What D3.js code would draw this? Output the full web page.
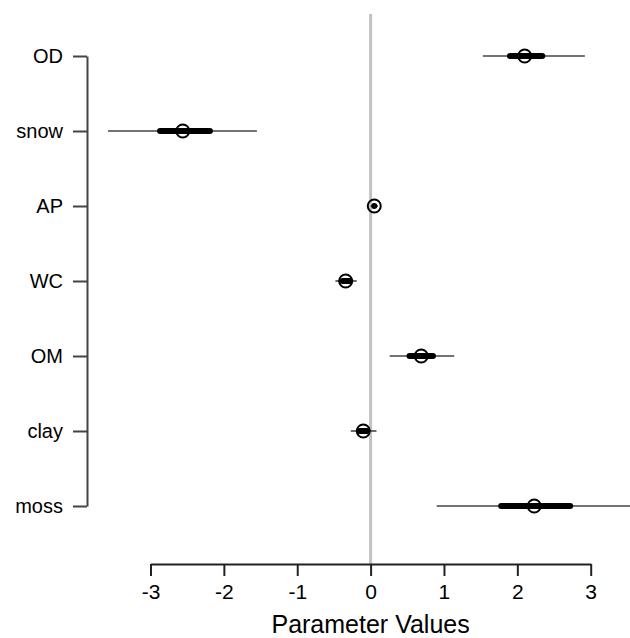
<!DOCTYPE html>
<html>
<head>
<meta charset="utf-8">
<script src="https://cdn.jsdelivr.net/npm/d3@7"></script>
<style>
  body { margin: 0; background: #fff; }
  svg { display: block; font-family: "Liberation Sans", Arial, sans-serif; }
</style>
</head>
<body>
<svg width="630" height="638"></svg>
<script>
// parameter estimates: median, 50% and 95% intervals
var params = ["OD", "snow", "AP", "WC", "OM", "clay", "moss"];
var medians = [2.10, -2.56, 0.05, -0.34, 0.69, -0.10, 2.23];
var lo95 = [1.53, -3.58, 0.00, -0.48, 0.26, -0.27, 0.90];
var hi95 = [2.92, -1.55, 0.10, -0.19, 1.14, 0.08, 3.70];
var lo50 = [1.90, -2.87, 0.05, -0.38, 0.53, -0.15, 1.78];
var hi50 = [2.34, -2.19, 0.05, -0.28, 0.85, -0.05, 2.72];
var xTicks = [-3, -2, -1, 0, 1, 2, 3];

var svg = d3.select("svg"),
    width = +svg.attr("width"),
    height = +svg.attr("height");

var rows = params.map(function(p, i) {
  return {name: p, med: medians[i], lo95: lo95[i], hi95: hi95[i], lo50: lo50[i], hi50: hi50[i]};
});

var x = d3.scaleLinear()
    .domain([-3, 3])
    .range([150.5, 590.7]);

var y = d3.scalePoint()
    .domain(params)
    .range([56, 506]);

// zero reference line
svg.append("line")
    .attr("x1", x(0)).attr("x2", x(0))
    .attr("y1", 14).attr("y2", 564)
    .attr("stroke", "#c2c2c2")
    .attr("stroke-width", 3);

// x axis
var gx = svg.append("g")
    .attr("transform", "translate(0,564)")
    .call(d3.axisBottom(x).tickValues(xTicks).tickSize(12).tickSizeOuter(0).tickPadding(8)
          .tickFormat(d3.format("d")));
gx.select(".domain").attr("stroke", "#222").attr("stroke-width", 2);
gx.selectAll(".tick line").attr("stroke", "#222").attr("stroke-width", 2);
gx.selectAll(".tick text")
    .attr("fill", "#000")
    .style("font-size", "21px")
    .text(function(d) { return d < 0 ? "-" + Math.abs(d) : d; });

svg.append("text")
    .attr("x", x(0))
    .attr("y", 633)
    .attr("text-anchor", "middle")
    .attr("fill", "#000")
    .style("font-size", "25px")
    .text("Parameter Values");

// y axis
var gy = svg.append("g")
    .attr("transform", "translate(87,0)")
    .call(d3.axisLeft(y).tickSize(14).tickSizeOuter(0).tickPadding(10));
gy.select(".domain").attr("stroke", "#444").attr("stroke-width", 2);
gy.selectAll(".tick line").attr("stroke", "#444").attr("stroke-width", 2);
gy.selectAll(".tick text")
    .attr("fill", "#000")
    .style("font-size", "20px");

var marks = svg.append("g");

// 95% intervals
marks.selectAll(".thin")
    .data(rows)
    .enter().append("line")
    .attr("class", "thin")
    .attr("x1", function(d) { return x(d.lo95); })
    .attr("x2", function(d) { return x(d.hi95); })
    .attr("y1", function(d) { return y(d.name); })
    .attr("y2", function(d) { return y(d.name); })
    .attr("stroke", "#444")
    .attr("stroke-width", 1.6);

// 50% intervals
marks.selectAll(".thick")
    .data(rows)
    .enter().append("line")
    .attr("class", "thick")
    .attr("x1", function(d) { return x(d.lo50); })
    .attr("x2", function(d) { return x(d.hi50); })
    .attr("y1", function(d) { return y(d.name); })
    .attr("y2", function(d) { return y(d.name); })
    .attr("stroke", "#000")
    .attr("stroke-width", 6)
    .attr("stroke-linecap", "round");

// medians
marks.selectAll("circle")
    .data(rows)
    .enter().append("circle")
    .attr("cx", function(d) { return x(d.med); })
    .attr("cy", function(d) { return y(d.name); })
    .attr("r", 6.5)
    .attr("fill", "none")
    .attr("stroke", "#000")
    .attr("stroke-width", 2);
</script>
</body>
</html>
